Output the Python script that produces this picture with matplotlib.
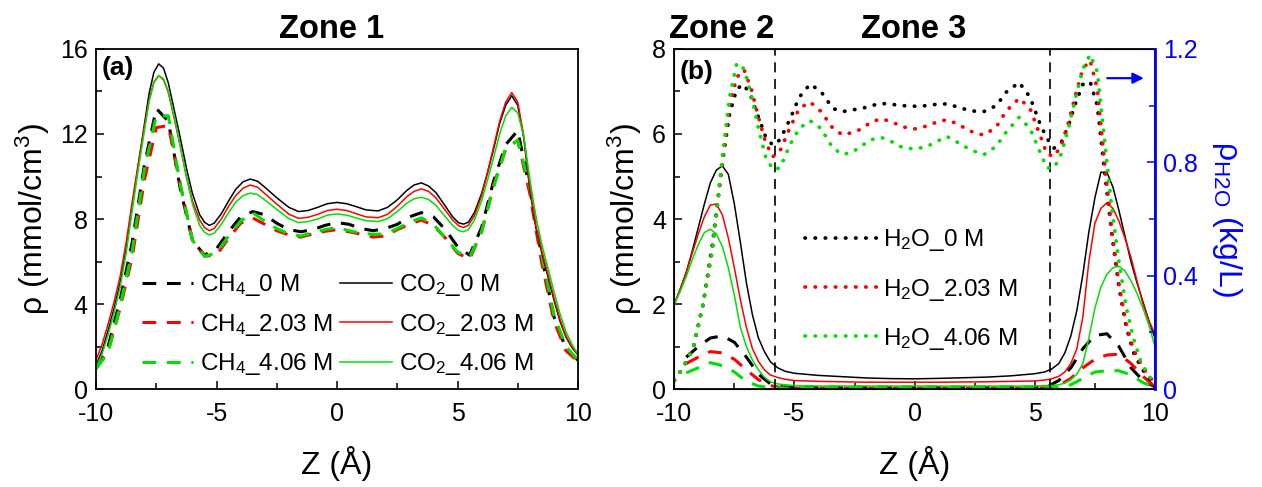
"""Density profiles of CH4/CO2 and water across the slit pore, zones 1-3."""

import matplotlib

matplotlib.use("Agg")
import matplotlib.pyplot as plt
from matplotlib.ticker import MultipleLocator

plt.rcParams["font.family"] = ["Liberation Sans", "DejaVu Sans"]
plt.rcParams["mathtext.fontset"] = "custom"
plt.rcParams["mathtext.rm"] = "Liberation Sans"
plt.rcParams["mathtext.it"] = "Liberation Sans:italic"
plt.rcParams["mathtext.bf"] = "Liberation Sans:bold"
plt.rcParams["axes.unicode_minus"] = False

BLUE = "#0000ff"
GREEN = "#00e000"
RED = "#ff0000"
BLACK = "#000000"

conc_labels = ["0 M", "2.03 M", "4.06 M"]

# ---- panel (a): zone 1 -------------------------------------------------
z_co2_a = [-10, -9.75, -9.5, -9.25, -9, -8.75, -8.5, -8.25, -8, -7.8, -7.6, -7.4, -7.2,
           -7.0, -6.75, -6.5, -6.25, -6.0, -5.7, -5.5, -5.3, -5.1, -4.8, -4.5, -4.2, -3.9,
           -3.6, -3.3, -3.0, -2.5, -2.0, -1.6, -1.2, -0.8, -0.4, 0, 0.4, 0.8, 1.2, 1.7,
           2.1, 2.5, 2.9, 3.2, 3.5, 3.8, 4.1, 4.5, 4.8, 5.05, 5.25, 5.45, 5.7, 6.0, 6.25,
           6.5, 6.75, 7.0, 7.25, 7.5, 7.75, 8.0, 8.25, 8.5, 8.75, 9.0, 9.25, 9.5, 9.75, 10]
co2_a_0 = [1.1, 1.8, 2.75, 3.8, 5.0, 6.6, 8.6, 10.5, 12.4, 13.9, 14.9, 15.3, 15.1,
           14.4, 13.1, 11.8, 10.4, 9.2, 8.2, 7.85, 7.7, 7.8, 8.25, 8.85, 9.4, 9.75,
           9.88, 9.78, 9.5, 9.0, 8.55, 8.35, 8.4, 8.55, 8.72, 8.78, 8.72, 8.58, 8.43, 8.38,
           8.55, 8.9, 9.35, 9.6, 9.7, 9.55, 9.25, 8.6, 8.1, 7.82, 7.76, 7.85, 8.3, 9.2, 10.2,
           11.3, 12.5, 13.35, 13.8, 13.35, 11.8, 9.4, 7.6, 6.4, 5.3, 4.2, 3.2, 2.45, 1.95, 1.6]
co2_a_2 = [1.35, 2.1, 3.05, 4.1, 5.3, 6.9, 8.8, 10.6, 12.3, 13.6, 14.45, 14.75, 14.55,
           13.95, 12.7, 11.4, 10.0, 8.85, 7.95, 7.6, 7.45, 7.55, 8.0, 8.6, 9.1, 9.45,
           9.6, 9.5, 9.2, 8.7, 8.23, 8.03, 8.08, 8.22, 8.4, 8.46, 8.4, 8.25, 8.1, 8.06,
           8.22, 8.6, 9.05, 9.3, 9.42, 9.3, 9.0, 8.4, 7.95, 7.68, 7.6, 7.7, 8.15, 9.1, 10.2,
           11.4, 12.6, 13.5, 13.95, 13.5, 11.9, 9.5, 7.7, 6.5, 5.4, 4.3, 3.3, 2.5, 2.0, 1.6]
co2_a_4 = [1.0, 1.65, 2.55, 3.6, 4.8, 6.4, 8.4, 10.3, 12.1, 13.5, 14.4, 14.75, 14.6,
           14.0, 12.8, 11.4, 10.0, 8.7, 7.7, 7.38, 7.25, 7.33, 7.75, 8.3, 8.8, 9.1,
           9.22, 9.15, 8.9, 8.45, 8.02, 7.83, 7.88, 8.0, 8.18, 8.24, 8.18, 8.05, 7.92, 7.88,
           8.02, 8.35, 8.75, 8.95, 9.02, 8.92, 8.65, 8.1, 7.7, 7.45, 7.4, 7.5, 7.95, 8.85, 9.85,
           10.9, 12.0, 12.85, 13.25, 13.0, 11.9, 9.9, 8.1, 6.8, 5.7, 4.6, 3.55, 2.7, 2.1, 1.65]

z_ch4_a = [-10, -9.5, -9, -8.5, -8, -7.5, -7, -6.5, -6, -5.5, -5, -4.5, -4, -3.5, -3,
           -2.5, -2, -1.5, -1, -0.5, 0, 0.5, 1, 1.5, 2, 2.5, 3, 3.5, 4, 4.5, 5, 5.5, 6,
           6.5, 7, 7.5, 8, 8.5, 9, 9.5, 10]
ch4_a_0 = [1.0, 2.0, 4.2, 6.9, 10.5, 13.2, 12.6, 9.4, 7.0, 6.3, 6.6, 7.4, 8.1, 8.35, 8.2,
           7.8, 7.5, 7.4, 7.5, 7.7, 7.83, 7.75, 7.55, 7.45, 7.55, 7.75, 8.1, 8.3, 8.1, 7.5,
           6.7, 6.3, 7.6, 9.8, 11.5, 12.16, 9.4, 6.2, 3.4, 1.9, 1.35]
ch4_a_2 = [1.0, 1.8, 3.8, 6.2, 9.8, 12.3, 12.4, 9.6, 7.0, 6.25, 6.3, 7.1, 7.8, 8.05, 7.75,
           7.45, 7.25, 7.15, 7.3, 7.42, 7.5, 7.4, 7.28, 7.15, 7.2, 7.5, 7.75, 7.95, 7.7, 7.1,
           6.4, 6.1, 7.4, 9.6, 11.3, 11.7, 9.2, 5.9, 3.2, 1.8, 1.3]
ch4_a_4 = [0.95, 1.7, 3.9, 6.5, 10.3, 12.86, 12.86, 9.6, 7.0, 6.25, 6.4, 7.2, 7.9, 8.3, 7.9,
           7.55, 7.3, 7.2, 7.35, 7.5, 7.6, 7.45, 7.33, 7.28, 7.3, 7.55, 7.85, 8.05, 7.75, 7.1,
           6.45, 6.2, 7.4, 9.5, 11.3, 11.7, 9.5, 6.3, 3.5, 2.0, 1.35]

# ---- panel (b): zones 2 and 3 -----------------------------------------
zone_bounds = [-5.8, 5.65]

z_co2_b = [-10, -9.75, -9.5, -9.25, -9, -8.75, -8.5, -8.25, -8, -7.75, -7.5, -7.25, -7,
           -6.75, -6.5, -6.25, -6, -5.7, -5.4, -5, -4, -3, -2, -1, 0, 1, 2, 3, 4, 5, 5.4,
           5.7, 6, 6.25, 6.5, 6.75, 7, 7.25, 7.5, 7.75, 8, 8.25, 8.5, 8.75, 9, 9.25, 9.5,
           9.75, 10]
co2_b_0 = [2.0, 2.35, 2.75, 3.25, 3.8, 4.35, 4.85, 5.15, 5.25, 5.05, 4.35, 3.45, 2.5,
           1.75, 1.2, 0.88, 0.64, 0.5, 0.42, 0.37, 0.32, 0.29, 0.26, 0.245, 0.24, 0.25,
           0.265, 0.28, 0.31, 0.36, 0.4, 0.47, 0.6, 0.85, 1.25, 1.85, 2.7, 3.7, 4.5, 5.1,
           5.1, 4.75, 4.2, 3.6, 3.0, 2.5, 2.05, 1.6, 1.2]
co2_b_2 = [2.0, 2.35, 2.75, 3.2, 3.65, 4.05, 4.33, 4.35, 4.1, 3.55, 2.85, 2.1, 1.45,
           0.95, 0.65, 0.45, 0.33, 0.27, 0.23, 0.2, 0.18, 0.17, 0.16, 0.16, 0.16, 0.16,
           0.165, 0.17, 0.18, 0.19, 0.21, 0.24, 0.3, 0.4, 0.6, 0.95, 1.7, 3.0, 3.9, 4.25,
           4.38, 4.25, 3.95, 3.55, 3.1, 2.55, 2.0, 1.6, 1.3]
co2_b_4 = [2.0, 2.3, 2.65, 3.05, 3.4, 3.68, 3.76, 3.65, 3.35, 2.85, 2.2, 1.45, 1.0,
           0.68, 0.45, 0.28, 0.17, 0.12, 0.1, 0.08, 0.07, 0.07, 0.07, 0.07, 0.07, 0.07,
           0.07, 0.07, 0.07, 0.07, 0.08, 0.08, 0.1, 0.14, 0.22, 0.35, 0.6, 1.2, 1.9, 2.4,
           2.7, 2.85, 2.89, 2.78, 2.55, 2.25, 1.9, 1.5, 1.0]

z_ch4_b = [-9.5, -9, -8.5, -8, -7.5, -7, -6.5, -6, -5.5, -5, -4, -3, -2, -1, 0, 1, 2,
           3, 4, 5, 5.5, 6, 6.5, 7, 7.5, 8, 8.5, 9, 9.5, 10]
ch4_b_0 = [0.75, 1.0, 1.2, 1.25, 1.1, 0.75, 0.35, 0.12, 0.05, 0.04, 0.04, 0.04, 0.04,
           0.04, 0.04, 0.04, 0.04, 0.04, 0.04, 0.04, 0.05, 0.2, 0.5, 0.95, 1.26, 1.3, 1.0,
           0.5, 0.2, 0.05]
ch4_b_2 = [0.6, 0.75, 0.88, 0.85, 0.7, 0.45, 0.22, 0.08, 0.03, 0.02, 0.02, 0.02, 0.02,
           0.02, 0.02, 0.02, 0.02, 0.02, 0.02, 0.02, 0.03, 0.08, 0.25, 0.5, 0.7, 0.8, 0.82,
           0.6, 0.3, 0.05]
ch4_b_4 = [0.38, 0.5, 0.62, 0.55, 0.4, 0.18, 0.07, 0.03, 0.02, 0.02, 0.02, 0.02, 0.02,
           0.02, 0.02, 0.02, 0.02, 0.02, 0.02, 0.02, 0.02, 0.04, 0.1, 0.25, 0.4, 0.43, 0.43,
           0.33, 0.15, 0.04]

z_h2o = [-10, -9.6, -9.2, -8.8, -8.4, -8.0, -7.7, -7.4, -7.1, -6.8, -6.5, -6.2, -5.9,
         -5.6, -5.2, -4.8, -4.35, -3.9, -3.4, -3.0, -2.6, -2.2, -1.8, -1.4, -1.0, -0.5,
         0, 0.5, 1.0, 1.35, 1.8, 2.2, 2.6, 2.9, 3.4, 3.8, 4.35, 4.8, 5.2, 5.5, 5.8, 6.1,
         6.4, 6.7, 7.0, 7.3, 7.6, 7.9, 8.2, 8.5, 8.8, 9.1, 9.4, 9.7, 10]
h2o_0 = [0.03, 0.08, 0.15, 0.3, 0.52, 0.8, 0.97, 1.06, 1.075, 1.03, 0.96, 0.89, 0.86,
         0.88, 0.95, 1.03, 1.076, 1.05, 0.99, 0.979, 0.985, 0.99, 1.0, 1.008, 1.005, 1.0,
         0.998, 1.0, 1.006, 1.006, 0.995, 0.985, 0.979, 0.98, 1.0, 1.047, 1.082, 1.03,
         0.94, 0.885, 0.85, 0.87, 0.93, 1.01, 1.075, 1.085, 1.0, 0.77, 0.55, 0.36, 0.22,
         0.13, 0.08, 0.04, 0.02]
h2o_2 = [0.03, 0.08, 0.15, 0.3, 0.5, 0.8, 1.0, 1.1, 1.127, 1.06, 0.96, 0.87, 0.82,
         0.84, 0.92, 0.99, 1.013, 0.98, 0.92, 0.897, 0.905, 0.918, 0.943, 0.953, 0.945,
         0.925, 0.918, 0.928, 0.945, 0.95, 0.935, 0.915, 0.9, 0.897, 0.925, 0.98, 1.026,
         0.99, 0.9, 0.83, 0.82, 0.86, 0.94, 1.04, 1.13, 1.16, 1.06, 0.8, 0.56, 0.37, 0.23,
         0.14, 0.09, 0.05, 0.02]
h2o_4 = [0.03, 0.08, 0.15, 0.3, 0.5, 0.82, 1.03, 1.15, 1.13, 1.04, 0.92, 0.82, 0.775,
         0.78, 0.86, 0.92, 0.947, 0.92, 0.85, 0.828, 0.835, 0.859, 0.88, 0.888, 0.875,
         0.852, 0.847, 0.855, 0.877, 0.891, 0.87, 0.85, 0.835, 0.828, 0.857, 0.906, 0.959,
         0.92, 0.84, 0.78, 0.78, 0.83, 0.92, 1.03, 1.13, 1.18, 1.12, 0.88, 0.64, 0.45,
         0.29, 0.18, 0.1, 0.05, 0.02]

colors = [BLACK, RED, GREEN]
DASH = (0, (4.5, 3.5))
DOT = (0, (0.1, 2.6))

fig = plt.figure(figsize=(12.62, 4.87), dpi=100)
ax_a = fig.add_axes([0.0761, 0.2012, 0.3819, 0.6982])
ax_b = fig.add_axes([0.5343, 0.2012, 0.3809, 0.6982])
ax_w = ax_b.twinx()


def style_axis(ax):
    ax.set_xlim(-10, 10)
    ax.xaxis.set_major_locator(MultipleLocator(5))
    ax.xaxis.set_minor_locator(MultipleLocator(2.5))
    ax.tick_params(which="both", direction="in", labelsize=18, width=1.1, pad=6)
    ax.tick_params(axis="x", which="both", pad=9)
    ax.tick_params(which="major", length=6)
    ax.tick_params(which="minor", length=4)
    ax.tick_params(top=False, right=False, which="both")
    for s in ax.spines.values():
        s.set_linewidth(1.3)
    ax.set_xlabel("Z (Å)", fontsize=23, labelpad=15)


# panel (a)
for c, lab, y in zip(colors, conc_labels, [ch4_a_0, ch4_a_2, ch4_a_4]):
    ax_a.plot(z_ch4_a, y, color=c, lw=2.2, ls=DASH, label="CH$_4$_" + lab)
for c, lab, y in zip(colors, conc_labels, [co2_a_0, co2_a_2, co2_a_4]):
    ax_a.plot(z_co2_a, y, color=c, lw=1.1, label="CO$_2$_" + lab)
style_axis(ax_a)
ax_a.set_ylim(0, 16)
ax_a.yaxis.set_major_locator(MultipleLocator(4))
ax_a.yaxis.set_minor_locator(MultipleLocator(2))
ax_a.set_ylabel("ρ (mmol/cm$^3$)", fontsize=23, labelpad=6)
ax_a.text(0.012, 0.945, "(a)", transform=ax_a.transAxes, fontsize=19,
          fontweight="bold", va="center")
ax_a.legend(ncol=2, loc="lower left", bbox_to_anchor=(0.095, 0.035), frameon=False,
            fontsize=17.5, handlelength=2.1, handletextpad=0.3, columnspacing=0.3,
            labelspacing=0.55, borderpad=0, borderaxespad=0)

# panel (b)
for c, y in zip(colors, [ch4_b_0, ch4_b_2, ch4_b_4]):
    ax_b.plot(z_ch4_b, y, color=c, lw=2.2, ls=DASH)
for c, y in zip(colors, [co2_b_0, co2_b_2, co2_b_4]):
    ax_b.plot(z_co2_b, y, color=c, lw=1.1)
for zb in zone_bounds:
    ax_b.axvline(zb, color=BLACK, lw=1.2, ls=(0, (6, 4)))
style_axis(ax_b)
ax_b.set_ylim(0, 8)
ax_b.yaxis.set_major_locator(MultipleLocator(2))
ax_b.yaxis.set_minor_locator(MultipleLocator(1))
ax_b.set_ylabel("ρ (mmol/cm$^3$)", fontsize=23, labelpad=6)
ax_b.text(0.012, 0.932, "(b)", transform=ax_b.transAxes, fontsize=19,
          fontweight="bold", va="center")

for c, lab, y in zip(colors, conc_labels, [h2o_0, h2o_2, h2o_4]):
    ax_w.plot(z_h2o, y, color=c, lw=2.7, ls=DOT, dash_capstyle="round",
              label="H$_2$O_" + lab)
ax_w.set_ylim(0, 1.2)
ax_w.yaxis.set_major_locator(MultipleLocator(0.4))
ax_w.yaxis.set_minor_locator(MultipleLocator(0.2))
ax_w.tick_params(which="both", direction="in", labelsize=18, colors=BLUE, width=1.1, pad=6)
ax_w.tick_params(which="major", length=6)
ax_w.tick_params(which="minor", length=4)
ax_w.yaxis.set_major_formatter(plt.FuncFormatter(lambda v, p: f"{v:g}"))
ax_w.spines["right"].set_color(BLUE)
ax_w.spines["right"].set_linewidth(2)
ax_w.set_ylabel("ρ$_{\\mathrm{H2O}}$ (kg/L)", fontsize=23, color=BLUE, rotation=-90,
                labelpad=33)
ax_w.annotate("", xy=(9.65, 1.097), xytext=(7.9, 1.097),
              arrowprops=dict(arrowstyle="-|>", color=BLUE, lw=1.6, mutation_scale=16))
ax_w.legend(loc="lower left", bbox_to_anchor=(0.272, 0.11), frameon=False,
            fontsize=17.5, handlelength=3.2, handletextpad=0.0, labelspacing=0.95,
            borderpad=0, borderaxespad=0)

# zone titles
fig.text(0.263, 0.94, "Zone 1", fontsize=23.5, fontweight="bold", ha="center", va="center")
fig.text(0.572, 0.94, "Zone 2", fontsize=23.5, fontweight="bold", ha="center", va="center")
fig.text(0.724, 0.94, "Zone 3", fontsize=23.5, fontweight="bold", ha="center", va="center")

fig.savefig("out.png", dpi=100)
